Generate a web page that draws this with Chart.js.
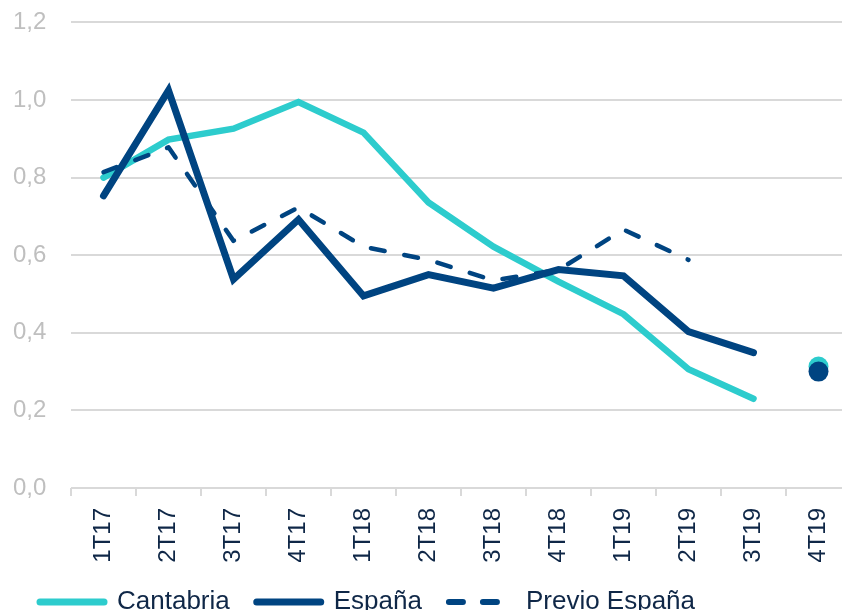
<!DOCTYPE html>
<html>
<head>
<meta charset="utf-8">
<script src="https://cdn.jsdelivr.net/npm/chart.js@4.4.1/dist/chart.umd.min.js"></script>
<style>
  html, body { margin: 0; padding: 0; background: #ffffff; overflow: hidden; width: 842px; height: 610px; }
  #wrap { width: 862px; height: 625px; }
</style>
</head>
<body>
<div id="wrap"><canvas id="c" width="862" height="625"></canvas></div>
<script>
const categories = ['1T17','2T17','3T17','4T17','1T18','2T18','3T18','4T18','1T19','2T19','3T19','4T19'];
const cantabria = [0.80, 0.898, 0.926, 0.995, 0.916, 0.736, 0.622, 0.532, 0.448, 0.306, 0.23, null];
const espana = [0.753, 1.025, 0.538, 0.692, 0.495, 0.55, 0.515, 0.563, 0.547, 0.403, 0.349, null];
const previoEspana = [0.814, 0.878, 0.637, 0.723, 0.622, 0.588, 0.535, 0.562, 0.666, 0.588, null, null];
const cantabriaLast = 0.313;
const espanaLast = 0.30;
const yTicks = [0, 0.2, 0.4, 0.6, 0.8, 1.0, 1.2];

const TEAL = '#2DCCCD';
const NAVY = '#004481';
const TEXT = '#0F2747';
const FONT = '"Liberation Sans", Arial, sans-serif';

const lastOnly = v => categories.map((c, i) => i === categories.length - 1 ? v : null);

const datasets = [
  { label: 'España 4T19', data: lastOnly(espanaLast), showLine: false, pointRadius: 10, pointHoverRadius: 10,
    pointBackgroundColor: NAVY, pointBorderColor: NAVY, pointBorderWidth: 0, borderColor: NAVY },
  { label: 'Cantabria 4T19', data: lastOnly(cantabriaLast), showLine: false, pointRadius: 10, pointHoverRadius: 10,
    pointBackgroundColor: TEAL, pointBorderColor: TEAL, pointBorderWidth: 0, borderColor: TEAL },
  { label: 'España', data: espana, borderColor: NAVY, backgroundColor: NAVY, borderWidth: 7,
    pointRadius: 0, borderCapStyle: 'round', borderJoinStyle: 'miter', legendWidth: 7 },
  { label: 'Previo España', data: previoEspana, borderColor: NAVY, backgroundColor: NAVY, borderWidth: 4.5,
    borderDash: [14, 20], pointRadius: 0, borderCapStyle: 'round', borderJoinStyle: 'round', legendWidth: 6 },
  { label: 'Cantabria', data: cantabria, borderColor: TEAL, backgroundColor: TEAL, borderWidth: 6.5,
    pointRadius: 0, borderCapStyle: 'round', borderJoinStyle: 'miter', legendWidth: 7 }
];
const legendOrder = [4, 2, 3];

new Chart(document.getElementById('c'), {
  type: 'line',
  data: { labels: categories, datasets: datasets },
  options: {
    responsive: false,
    animation: false,
    devicePixelRatio: 1,
    spanGaps: false,
    layout: { autoPadding: false, padding: { left: 13, right: 11, top: 0, bottom: 0 } },
    plugins: {
      tooltip: { enabled: false },
      legend: {
        position: 'bottom',
        align: 'start',
        labels: {
          usePointStyle: true,
          pointStyleWidth: 64,
          padding: 27,
          color: TEXT,
          font: { family: FONT, size: 26 },
          generateLabels: chart => legendOrder.map(i => {
            const ds = chart.data.datasets[i];
            return {
              text: ds.label,
              fillStyle: ds.borderColor,
              strokeStyle: ds.borderColor,
              lineWidth: ds.legendWidth,
              lineDash: ds.borderDash || [],
              lineCap: 'round',
              pointStyle: 'line',
              fontColor: TEXT,
              hidden: false,
              datasetIndex: i
            };
          })
        }
      }
    },
    scales: {
      x: {
        offset: true,
        afterFit: axis => { axis.height = 74; },
        grid: { display: true, offset: true, drawOnChartArea: false, drawTicks: true, tickLength: 8, color: '#D9D9D9', lineWidth: 2 },
        border: { display: false },
        ticks: {
          minRotation: 90, maxRotation: 90, padding: 12, autoSkip: false,
          color: TEXT,
          font: { family: FONT, size: 24 }
        }
      },
      y: {
        min: 0, max: 1.2,
        afterFit: axis => { axis.width = 58; },
        afterBuildTicks: axis => { axis.ticks = yTicks.map(v => ({ value: v })); },
        grid: { color: '#D9D9D9', lineWidth: 2, drawTicks: false },
        border: { display: false },
        ticks: {
          padding: 8,
          crossAlign: 'far',
          color: '#BFBFBF',
          font: { family: FONT, size: 24 },
          callback: v => v.toFixed(1).replace('.', ',')
        }
      }
    }
  }
});
</script>
</body>
</html>
